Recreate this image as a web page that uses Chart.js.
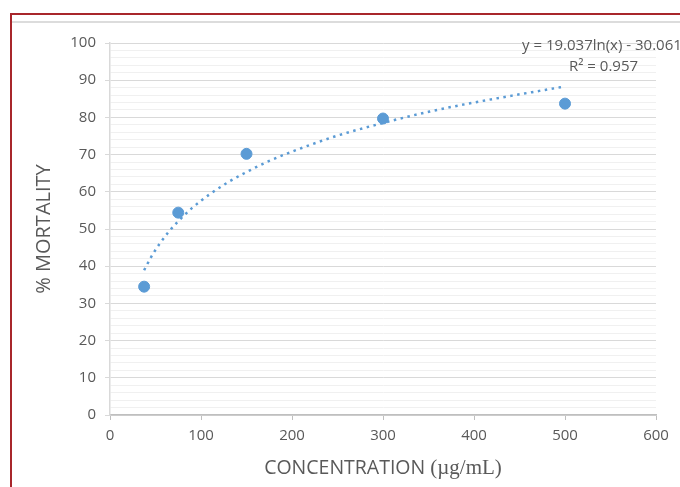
<!DOCTYPE html>
<html>
<head>
<meta charset="utf-8">
<script src="https://cdn.jsdelivr.net/npm/chart.js@4"></script>
<style>
  html, body { margin: 0; padding: 0; background: #fff; overflow: hidden; }
  #wrap { position: relative; width: 680px; height: 487px; overflow: hidden; }
  #frame { position: absolute; left: 10px; top: 13px; width: 700px; height: 500px;
           border-left: 2px solid #a8262b; border-top: 2px solid #a8262b; }
  #band { position: absolute; left: 12px; top: 21px; width: 700px; height: 0;
          border-top: 2px solid #dcdcdc; }
  canvas { position: absolute; left: 0; top: 0; }
  .txt { position: absolute; color: #595959; font-family: "Open Sans", sans-serif; white-space: nowrap; }
  #eq1 { left: 522px; top: 34px; font-size: 15px; }
  #eq2 { left: 569px; top: 55px; font-size: 15px; }
  #xtitle { left: 0; width: 766px; top: 453px; text-align: center; font-size: 19.5px; }
  #xtitle .unit { font-family: "Liberation Serif", "DejaVu Serif", serif; font-size: 21px; }
</style>
</head>
<body>
<div id="wrap">
  <div id="frame"></div>
  <div id="band"></div>
  <canvas id="myChart" width="680" height="487"></canvas>
  <div class="txt" id="eq1">y = 19.037ln(x) - 30.061</div>
  <div class="txt" id="eq2">R² = 0.957</div>
  <div class="txt" id="xtitle">CONCENTRATION <span class="unit">(µg/mL)</span></div>
</div>
<script>
// measured points
const concentration = [37.5, 75, 150, 300, 500];
const mortality = [34.5, 54.4, 70.2, 79.7, 83.7];

// dotted trend line
const trendX = [37.5, 45, 55, 65, 75, 90, 110, 130, 150, 175, 200, 250, 300, 350, 400, 450, 500];
const trendY = [38.9, 42.4, 46.2, 49.4, 52.1, 55.6, 59.4, 62.6, 65.3, 68.3, 70.8, 75.1, 78.5, 81.5, 84.0, 86.2, 88.3];

const yTicks = [0, 10, 20, 30, 40, 50, 60, 70, 80, 90, 100];
const xTicks = [0, 100, 200, 300, 400, 500, 600];

const blue = "rgb(91, 155, 213)";

const pts = concentration.map((c, i) => ({ x: c, y: mortality[i] }));
const trend = trendX.map((c, i) => ({ x: c, y: trendY[i] }));

function isMajor(v) {
  return yTicks.indexOf(v) !== -1;
}

var ctx = document.getElementById("myChart").getContext("2d");

var myChart = new Chart(ctx, {
  type: "scatter",
  data: {
    datasets: [
      {
        data: pts,
        backgroundColor: blue,
        borderColor: blue,
        pointRadius: 5.5,
        pointHoverRadius: 5.5,
        order: 0
      },
      {
        data: trend,
        showLine: true,
        borderColor: blue,
        borderWidth: 2.5,
        borderDash: [2.5, 4.5],
        cubicInterpolationMode: "monotone",
        pointRadius: 0,
        fill: false,
        order: 1
      }
    ]
  },
  options: {
    responsive: false,
    animation: false,
    layout: {
      padding: { left: 32, right: 24, top: 43, bottom: 0 }
    },
    plugins: {
      legend: { display: false },
      tooltip: { enabled: false }
    },
    scales: {
      x: {
        type: "linear",
        min: 0,
        max: 600,
        afterBuildTicks: function (scale) {
          scale.ticks = xTicks.map(v => ({ value: v }));
        },
        afterFit: function (scale) {
          scale.height = 72;
        },
        grid: {
          drawOnChartArea: false,
          drawTicks: true,
          tickLength: 5,
          tickColor: "#bfbfbf"
        },
        border: { color: "#bfbfbf", width: 1.5 },
        ticks: {
          color: "#595959",
          padding: 7,
          font: { family: "'Open Sans', sans-serif", size: 15 }
        }
      },
      y: {
        min: 0,
        max: 100,
        afterFit: function (scale) {
          scale.width = 78;
        },
        ticks: {
          stepSize: 2,
          autoSkip: false,
          color: "#595959",
          padding: 9,
          font: { family: "'Open Sans', sans-serif", size: 15 },
          callback: function (v) {
            return isMajor(v) ? v : "";
          }
        },
        grid: {
          tickLength: 5,
          color: function (c) {
            return isMajor(c.tick.value) ? "#d9d9d9" : "#f0f0f0";
          },
          tickColor: function (c) {
            return isMajor(c.tick.value) ? "#d9d9d9" : "rgba(0,0,0,0)";
          },
          lineWidth: 1
        },
        border: { color: "#d9d9d9", width: 1.5 },
        title: {
          display: true,
          text: "% MORTALITY",
          color: "#595959",
          padding: 0,
          font: { family: "'Open Sans', sans-serif", size: 20 }
        }
      }
    }
  }
});
</script>
</body>
</html>
